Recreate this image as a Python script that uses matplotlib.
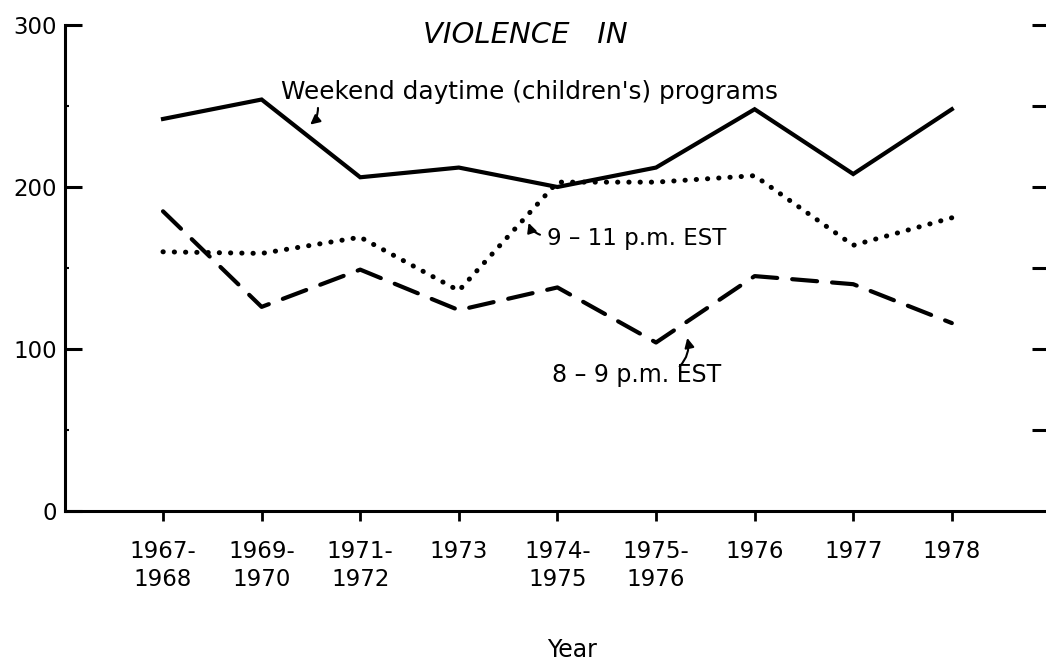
import matplotlib
matplotlib.use("Agg")
import matplotlib.pyplot as plt

categories = ["1967-\n1968", "1969-\n1970", "1971-\n1972", "1973", "1974-\n1975",
              "1975-\n1976", "1976", "1977", "1978"]
weekend = [242, 254, 206, 212, 200, 212, 248, 208, 248]
late_prime = [160, 159, 169, 136, 203, 203, 207, 164, 181]
early_prime = [185, 126, 149, 124, 138, 104, 145, 140, 116]
y_ticks = [0, 100, 200, 300]
y_minor = [50, 150, 250]
right_ticks = [50, 100, 150, 200, 250, 300]

plt.rcParams['font.family'] = ['DejaVu Sans']

fig = plt.figure(figsize=(10.46, 6.61), dpi=100)
ax = fig.add_axes([65/1046, 1 - 511/661, 1 - 65/1046, (511 - 25)/661])

x = list(range(len(categories)))
ax.plot(x, weekend, color='black', lw=3.0, solid_joinstyle='miter')
ax.plot(x, late_prime, color='black', lw=3.6, linestyle=(0, (0.05, 2.2)),
        dash_capstyle='round')
ax.plot(x, early_prime, color='black', lw=3.0, linestyle=(0, (6.0, 3.6)),
        dash_capstyle='round')

ax.set_xlim(-0.994, 8.955)
ax.set_ylim(0, 300)
ax.set_xticks(x)
ax.set_xticklabels(categories, fontsize=16.5, linespacing=1.25)
ax.set_yticks(y_ticks)
ax.set_yticklabels([str(v) for v in y_ticks], fontsize=16.5)
ax.set_yticks(y_minor, minor=True)

for s in ['top', 'right']:
    ax.spines[s].set_visible(False)
for s in ['left', 'bottom']:
    ax.spines[s].set_linewidth(2.2)

ax.tick_params(axis='y', which='major', direction='in', length=12, width=2.2, pad=6)
ax.tick_params(axis='y', which='minor', direction='in', length=3, width=1.5)
ax.tick_params(axis='x', which='major', direction='out', length=7, width=2.0, pad=14)

ax2 = ax.twinx()
ax2.set_ylim(0, 300)
ax2.set_yticks(right_ticks)
ax2.set_yticklabels([])
ax2.tick_params(axis='y', direction='in', length=10, width=2.2)
for s in ['top', 'right', 'left', 'bottom']:
    ax2.spines[s].set_visible(False)

ax.set_xlabel("Year", fontsize=17)
ax.xaxis.set_label_coords((572 - 65) / (1046 - 65), -(638 - 511) / 486)

ax.text(3.67, 294, "VIOLENCE   IN", fontsize=21, style='italic', ha='center', va='center')

ax.text(1.2, 258.5, "Weekend daytime (children's) programs", fontsize=17.8,
        ha='left', va='center')
ax.annotate("", xy=(1.47, 237.5), xytext=(1.57, 250.5),
            arrowprops=dict(arrowstyle='-|>', color='black', lw=1.5,
                            connectionstyle='arc3,rad=-0.3', mutation_scale=14))

ax.text(3.89, 168.5, "9 – 11 p.m. EST", fontsize=16.5, ha='left', va='center')
ax.annotate("", xy=(3.70, 179.5), xytext=(3.85, 170),
            arrowprops=dict(arrowstyle='-|>', color='black', lw=1.5,
                            connectionstyle='arc3,rad=-0.3', mutation_scale=14))

ax.text(3.95, 84, "8 – 9 p.m. EST", fontsize=17, ha='left', va='center')
ax.annotate("", xy=(5.31, 108.5), xytext=(5.22, 88),
            arrowprops=dict(arrowstyle='-|>', color='black', lw=1.5,
                            connectionstyle='arc3,rad=0.3', mutation_scale=14))

fig.savefig("out.png", dpi=100)
